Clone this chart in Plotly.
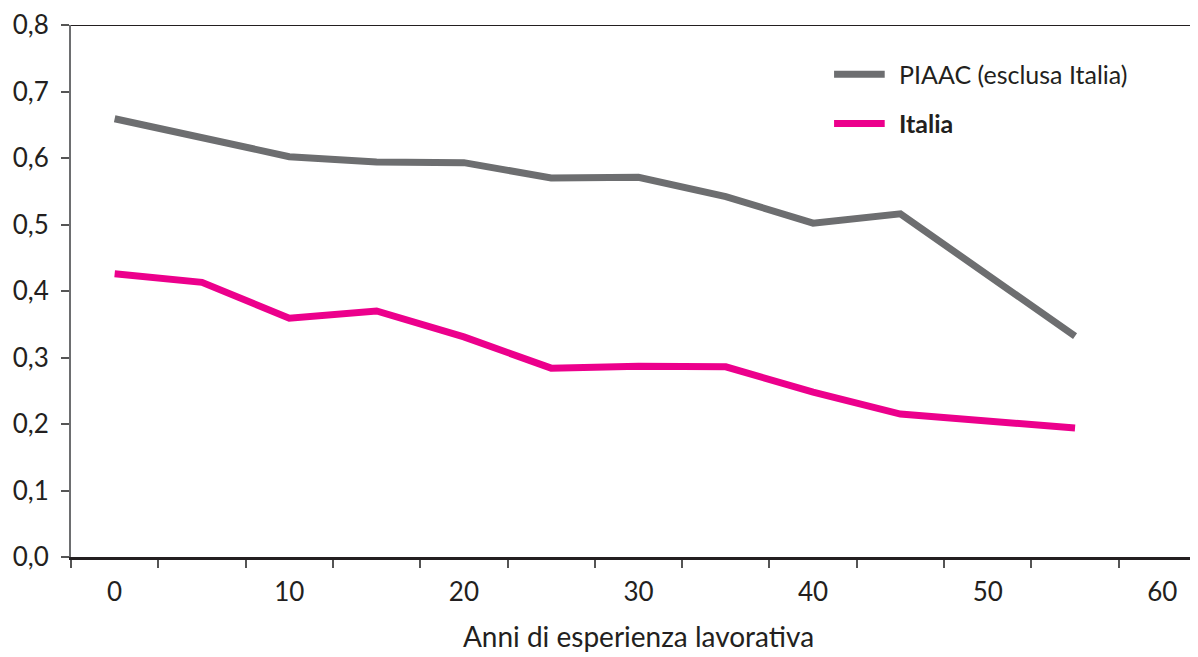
import plotly.graph_objects as go

# anni di esperienza lavorativa
anni = [0, 5, 10, 15, 20, 25, 30, 35, 40, 45, 55]
piaac = [0.659, 0.630, 0.602, 0.594, 0.593, 0.570, 0.571, 0.542, 0.502, 0.516, 0.332]
italia = [0.426, 0.413, 0.359, 0.370, 0.331, 0.284, 0.287, 0.286, 0.248, 0.215, 0.194]

x_labels = [0, 10, 20, 30, 40, 50, 60]
y_ticks = [0.0, 0.1, 0.2, 0.3, 0.4, 0.5, 0.6, 0.7, 0.8]

series = [("PIAAC (esclusa Italia)", piaac, "#6d6e70"),
          ("<b>Italia</b>", italia, "#ec008c")]

TXT = "#231f20"
FONT = "Lato"

fig = go.Figure()
for name, vals, col in series:
    fig.add_trace(go.Scatter(x=anni, y=vals, mode="lines", name=name,
                             line=dict(color=col, width=7), showlegend=False))

fig.update_layout(
    width=1198, height=657,
    margin=dict(l=63, r=0, t=17, b=108),
    paper_bgcolor="white", plot_bgcolor="white",
    separators=",.",
    font=dict(family=FONT, size=26, color=TXT),
)

fig.update_xaxes(
    range=[-2.5, 62.5], tickvals=x_labels, ticks="", ticklen=0,
    ticklabelstandoff=10,
    showline=True, linecolor=TXT, linewidth=3,
    showgrid=False, zeroline=False,
    minor=dict(tick0=-2.5, dtick=5, ticks="outside", ticklen=8,
               tickcolor="#555555", tickwidth=2, showgrid=False),
    title=dict(text="Anni di esperienza lavorativa", standoff=22,
               font=dict(size=28, color=TXT)),
    tickfont=dict(size=26, color=TXT),
)

fig.update_yaxes(
    range=[0, 0.8], tickvals=y_ticks, tickformat=".1f",
    ticks="outside", ticklen=8, tickcolor="#555555", tickwidth=2,
    ticklabelstandoff=7,
    showline=True, linecolor="#6d6e70", linewidth=2,
    showgrid=False, zeroline=False,
    tickfont=dict(size=26, color=TXT),
)

# linea superiore del riquadro
fig.add_shape(type="line", xref="paper", yref="y", x0=0, x1=1, y0=0.8, y1=0.8,
              line=dict(color=TXT, width=2))

# legenda disegnata a mano (campioni di linea piu lunghi)
leg_y = [0.726, 0.652]
for (name, vals, col), yy in zip(series, leg_y):
    fig.add_shape(type="line", xref="x", yref="y", x0=41.2, x1=44.1, y0=yy, y1=yy,
                  line=dict(color=col, width=7))
    fig.add_annotation(x=44.8, y=yy, xref="x", yref="y", text=name, showarrow=False,
                       xanchor="left", yanchor="middle",
                       font=dict(size=25, color=TXT, family=FONT))

fig.write_html("out.html")
